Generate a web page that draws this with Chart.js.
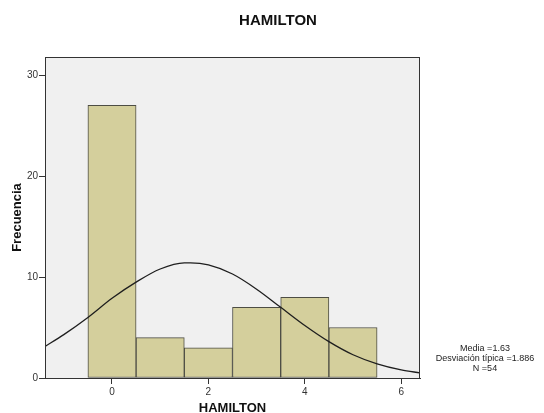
<!DOCTYPE html>
<html>
<head>
<meta charset="utf-8">
<script src="https://cdn.jsdelivr.net/npm/chart.js@4"></script>
<style>
  html, body { margin: 0; padding: 0; background: #fff; }
  #wrap { width: 544px; height: 413px; position: relative; }
</style>
</head>
<body>
<div id="wrap"><canvas id="chart"></canvas></div>
<script>
// Histogram of HAMILTON with fitted normal curve
const binCenters = [0, 1, 2, 3, 4, 5];
const frequencies = [27, 4, 3, 7, 8, 5];

// normal curve
const curveX = [-1.4, -1, -0.5, 0, 0.5, 1, 1.5, 1.63, 2, 2.5, 3, 3.5, 4, 4.5, 5, 5.5, 6, 6.4];
const curveY = [3.1, 4.3, 6.0, 7.9, 9.5, 10.8, 11.4, 11.4, 11.2, 10.3, 8.8, 7.0, 5.2, 3.6, 2.3, 1.4, 0.8, 0.5];

const xTicks = [0, 2, 4, 6];
const yTicks = [0, 10, 20, 30];
const statsLines = ["Media =1.63", "Desviación típica =1.886", "N =54"];
const TITLE = "HAMILTON";

const FONT = "'Liberation Sans', Arial, sans-serif";
const INK = "#333";

const frame = {
  id: "frame",
  beforeDraw(chart) {
    const { ctx, chartArea: a } = chart;
    ctx.save();
    ctx.fillStyle = "#fff";
    ctx.fillRect(0, 0, chart.width, chart.height);
    ctx.fillStyle = "#f0f0f0";
    ctx.fillRect(a.left, a.top, a.right - a.left, a.bottom - a.top);
    ctx.restore();
  },
  afterDraw(chart) {
    const { ctx, chartArea: a } = chart;
    ctx.save();
    ctx.strokeStyle = INK;
    ctx.lineWidth = 1;
    ctx.strokeRect(a.left + 0.5, a.top + 0.5, a.right - a.left - 1, a.bottom - a.top);
    // title
    ctx.fillStyle = "#111";
    ctx.textAlign = "center";
    ctx.textBaseline = "middle";
    ctx.font = "bold 15px " + FONT;
    ctx.fillText(TITLE, 278, 21);
    // stats
    ctx.fillStyle = "#222";
    ctx.font = "9px " + FONT;
    statsLines.forEach((s, i) => ctx.fillText(s, 485, 349 + i * 10));
    ctx.restore();
  },
};

new Chart(document.getElementById("chart"), {
  data: {
    datasets: [
      {
        type: "line",
        data: curveX.map((x, i) => ({ x, y: curveY[i] })),
        borderColor: "#1e1e1e",
        borderWidth: 1.3,
        pointRadius: 0,
        cubicInterpolationMode: "monotone",
        order: 0,
      },
      {
        type: "bar",
        data: binCenters.map((x, i) => ({ x, y: frequencies[i] })),
        backgroundColor: "#d4cf9c",
        borderColor: "#4d4d44",
        borderWidth: 1,
        borderSkipped: false,
        barPercentage: 1,
        categoryPercentage: 1,
        order: 1,
      },
    ],
  },
  plugins: [frame],
  options: {
    responsive: true,
    maintainAspectRatio: false,
    animation: false,
    layout: { padding: { top: 57, right: 124, left: 0, bottom: 0 } },
    plugins: { legend: { display: false }, tooltip: { enabled: false } },
    scales: {
      x: {
        type: "linear",
        min: -1.39,
        max: 6.39,
        offset: false,
        afterFit: (s) => { s.height = 35; },
        afterBuildTicks: (s) => { s.ticks = xTicks.map((v) => ({ value: v })); },
        grid: { drawOnChartArea: false, offset: false, tickLength: 6, color: INK },
        border: { display: true, color: INK },
        ticks: { color: INK, font: { family: FONT, size: 10 }, padding: 2, maxRotation: 0 },
        title: {
          display: true,
          text: "HAMILTON",
          color: "#111",
          font: { family: FONT, size: 13, weight: "bold", lineHeight: 0.77 },
          padding: { top: 0, bottom: 0 },
        },
      },
      y: {
        min: 0,
        max: 31.8,
        afterFit: (s) => { s.width = 45; },
        afterBuildTicks: (s) => { s.ticks = yTicks.map((v) => ({ value: v })); },
        grid: { drawOnChartArea: false, tickLength: 6, color: INK },
        border: { display: true, color: INK },
        ticks: { color: INK, font: { family: FONT, size: 10 }, padding: 1 },
        title: {
          display: true,
          text: "Frecuencia",
          color: "#111",
          font: { family: FONT, size: 13, weight: "bold", lineHeight: 1 },
          padding: { top: 11, bottom: 0 },
        },
      },
    },
  },
});
</script>
</body>
</html>
